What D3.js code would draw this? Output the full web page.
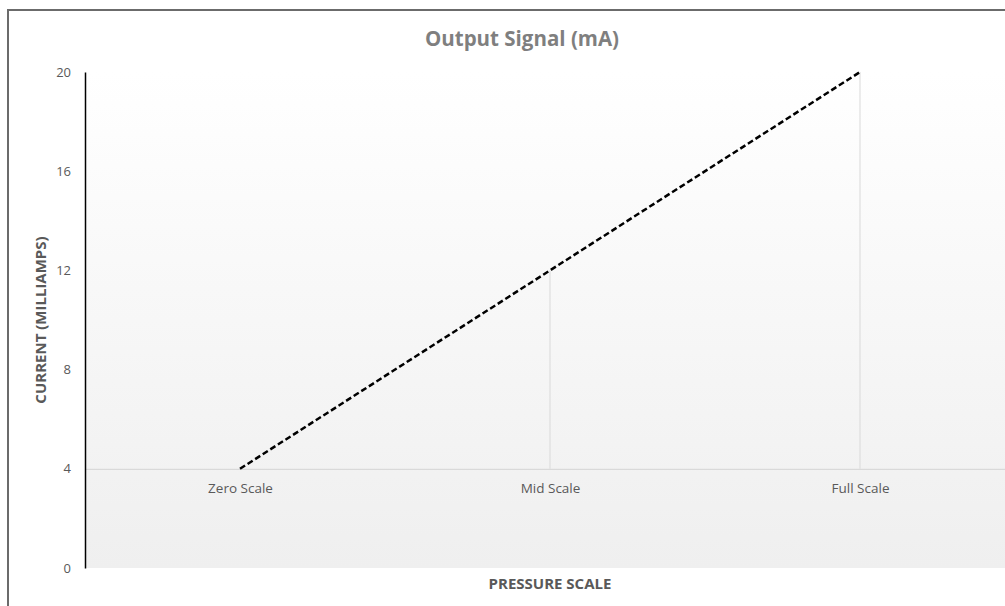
<!DOCTYPE html>
<html>
<head>
<meta charset="utf-8">
<script src="https://cdn.jsdelivr.net/npm/d3@7"></script>
<style>
  body { margin: 0; background: #fff; }
  text { font-family: "Open Sans", "Noto Sans", sans-serif; }
</style>
</head>
<body>
<svg width="1005" height="606"></svg>
<script>
// chart data
var categories = ["Zero Scale", "Mid Scale", "Full Scale"];
var current = [4, 12, 20];
var yTicks = [0, 4, 8, 12, 16, 20];
var crossAt = 4;

var svg = d3.select("svg");

var x = d3.scalePoint().domain(categories).range([85, 1015]).padding(0.5);
var y = d3.scaleLinear().domain([0, 20]).range([568, 72]);

// outer chart border
svg.append("rect")
  .attr("x", 8).attr("y", 10).attr("width", 1100).attr("height", 700)
  .attr("fill", "none").attr("stroke", "#6b6b6b").attr("stroke-width", 2);

// plot area gradient
var defs = svg.append("defs");
var grad = defs.append("linearGradient").attr("id", "bg")
  .attr("x1", 0).attr("y1", 0).attr("x2", 0).attr("y2", 1);
grad.append("stop").attr("offset", "0%").attr("stop-color", "#ffffff");
grad.append("stop").attr("offset", "100%").attr("stop-color", "#efefef");

svg.append("rect")
  .attr("x", 85).attr("y", y(20))
  .attr("width", 1015 - 85).attr("height", y(0) - y(20))
  .attr("fill", "url(#bg)");

// drop lines from the category axis to each point
svg.append("g").selectAll("line")
  .data(categories)
  .enter().append("line")
  .attr("x1", function(d) { return x(d); })
  .attr("x2", function(d) { return x(d); })
  .attr("y1", y(crossAt))
  .attr("y2", function(d, i) { return y(current[i]); })
  .attr("stroke", "#d9d9d9").attr("stroke-width", 1);

// category axis crossing at 4
var xAxis = svg.append("g")
  .attr("transform", "translate(0," + y(crossAt) + ")")
  .call(d3.axisBottom(x).tickSize(0).tickPadding(15));
xAxis.select(".domain").attr("stroke", "#d9d9d9").attr("stroke-width", 1.2);
xAxis.selectAll("text").attr("fill", "#595959").attr("font-size", 13.5);

// value axis
var yAxis = svg.append("g")
  .attr("transform", "translate(85,0)")
  .call(d3.axisLeft(y).tickValues(yTicks).tickSize(0).tickPadding(14));
yAxis.select(".domain").attr("stroke", "#000").attr("stroke-width", 1.5);
yAxis.selectAll("text").attr("fill", "#595959").attr("font-size", 13);

// series line
var line = d3.line()
  .x(function(d, i) { return x(categories[i]); })
  .y(function(d) { return y(d); });

svg.append("path")
  .datum(current)
  .attr("d", line)
  .attr("fill", "none")
  .attr("stroke", "#000")
  .attr("stroke-width", 2.5)
  .attr("stroke-dasharray", "6,3");

// titles
svg.append("text")
  .attr("x", 522).attr("y", 46)
  .attr("text-anchor", "middle")
  .attr("font-size", 20.5).attr("font-weight", "bold")
  .attr("fill", "#7f7f7f")
  .text("Output Signal (mA)");

svg.append("text")
  .attr("x", 550).attr("y", 589)
  .attr("text-anchor", "middle")
  .attr("font-size", 15).attr("font-weight", "bold")
  .attr("fill", "#595959")
  .text("PRESSURE SCALE");

svg.append("text")
  .attr("transform", "translate(46," + 320 + ") rotate(-90)")
  .attr("text-anchor", "middle")
  .attr("font-size", 15).attr("font-weight", "bold")
  .attr("fill", "#595959")
  .text("CURRENT (MILLIAMPS)");
</script>
</body>
</html>
